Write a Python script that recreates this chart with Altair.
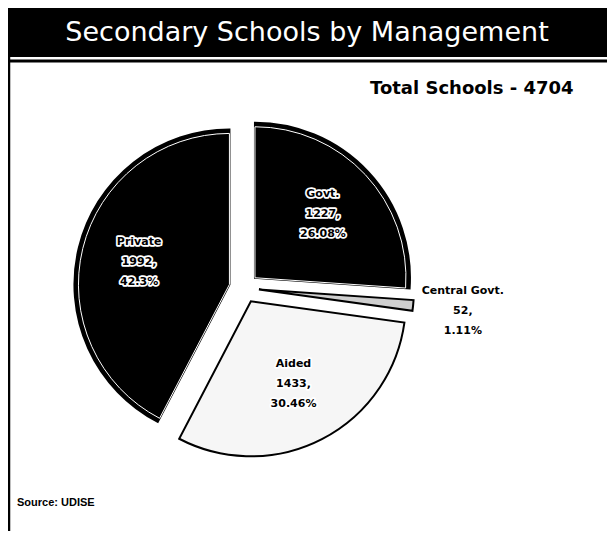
import altair as alt
import pandas as pd

# ---- data ----
categories = ["Govt.", "Central Govt.", "Aided", "Private"]
counts = [1227, 52, 1433, 1992]
percent_labels = ["26.08%", "1.11%", "30.46%", "42.3%"]
slice_colors = ["#000000", "#cfcfcf", "#f6f6f6", "#000000"]
title_text = "Secondary Schools by Management"
total_text = "Total Schools - 4704"
source_text = "Source: UDISE"

df = pd.DataFrame({
    "cat": categories,
    "n": counts,
    "pct": percent_labels,
    "order": list(range(len(categories))),
})
one = pd.DataFrame({"a": [0]})

W, H = 599, 523
CX, CY, R, EXPLODE = 236, 280, 155, 15
LH = 20

base = (
    alt.Chart(df)
    .transform_joinaggregate(total="sum(n)")
    .transform_window(cum="sum(n)", sort=[alt.SortField("order")], frame=[None, 0])
    .transform_calculate(t0="2*PI*(datum.cum - datum.n)/datum.total")
    .transform_calculate(t1="2*PI*datum.cum/datum.total")
    .transform_calculate(mid="(datum.t0 + datum.t1)/2")
    .transform_calculate(px=f"{CX} + {EXPLODE}*sin(datum.mid)")
    .transform_calculate(py=f"{CY} - {EXPLODE}*cos(datum.mid)")
    .transform_calculate(lr=f"datum.n/datum.total < 0.05 ? {R + 50} : {R * 0.6}")
    .transform_calculate(lx="datum.px + datum.lr*sin(datum.mid)")
    .transform_calculate(ly="datum.py - datum.lr*cos(datum.mid)")
    .transform_calculate(label="datum.cat + '\\n' + datum.n + ',\\n' + datum.pct")
)

pie = base.mark_arc(radius=R, stroke="black", strokeWidth=2).encode(
    x=alt.X("px:Q", scale=None),
    y=alt.Y("py:Q", scale=None),
    theta=alt.Theta("t0:Q", scale=None, stack=None),
    theta2="t1:Q",
    fill=alt.Fill("cat:N", scale=alt.Scale(domain=categories, range=slice_colors), legend=None),
)
pie_inner = base.transform_filter("datum.cat == 'Govt.' || datum.cat == 'Private'").mark_arc(
    radius=R - 4, fill="black", stroke="white", strokeWidth=1
).encode(
    x=alt.X("px:Q", scale=None),
    y=alt.Y("py:Q", scale=None),
    theta=alt.Theta("t0:Q", scale=None, stack=None),
    theta2="t1:Q",
)

label_kw = dict(lineBreak="\n", font="DejaVu Sans", fontSize=11, fontWeight="bold",
                align="center", baseline="middle", lineHeight=LH, dy=-LH)
halo = base.mark_text(stroke="white", strokeWidth=3.5, strokeJoin="round", color="black", **label_kw).encode(
    x=alt.X("lx:Q", scale=None), y=alt.Y("ly:Q", scale=None), text="label:N")
labels = base.mark_text(color="black", **label_kw).encode(
    x=alt.X("lx:Q", scale=None), y=alt.Y("ly:Q", scale=None), text="label:N")

bar = alt.Chart(one).mark_rect(color="black").encode(
    x=alt.value(0), x2=alt.value(W), y=alt.value(0), y2=alt.value(49))
bar_line = alt.Chart(one).mark_rule(color="black", strokeWidth=3).encode(
    x=alt.value(0), x2=alt.value(W), y=alt.value(53))
left_line = alt.Chart(one).mark_rule(color="black", strokeWidth=2.5).encode(
    x=alt.value(1), y=alt.value(0), y2=alt.value(H))
title = alt.Chart(one).mark_text(text=title_text, font="DejaVu Sans", fontSize=27, color="white",
                                 align="center", baseline="middle").encode(
    x=alt.value(299), y=alt.value(25))
total = alt.Chart(one).mark_text(text=total_text, font="DejaVu Sans", fontSize=18, fontWeight="bold",
                                 color="black", align="left", baseline="middle").encode(
    x=alt.value(362), y=alt.value(81))
source = alt.Chart(one).mark_text(text=source_text, font="Liberation Sans", fontSize=11, fontWeight="bold",
                                  color="black", align="left", baseline="middle").encode(
    x=alt.value(9), y=alt.value(495))

chart = alt.layer(bar, bar_line, left_line, title, total, source, pie, pie_inner, halo, labels).properties(
    width=W, height=H, autosize="none", padding=0, background="white"
).configure_view(stroke=None)

chart.save("out.html", embed_options={"renderer": "svg", "actions": False})
